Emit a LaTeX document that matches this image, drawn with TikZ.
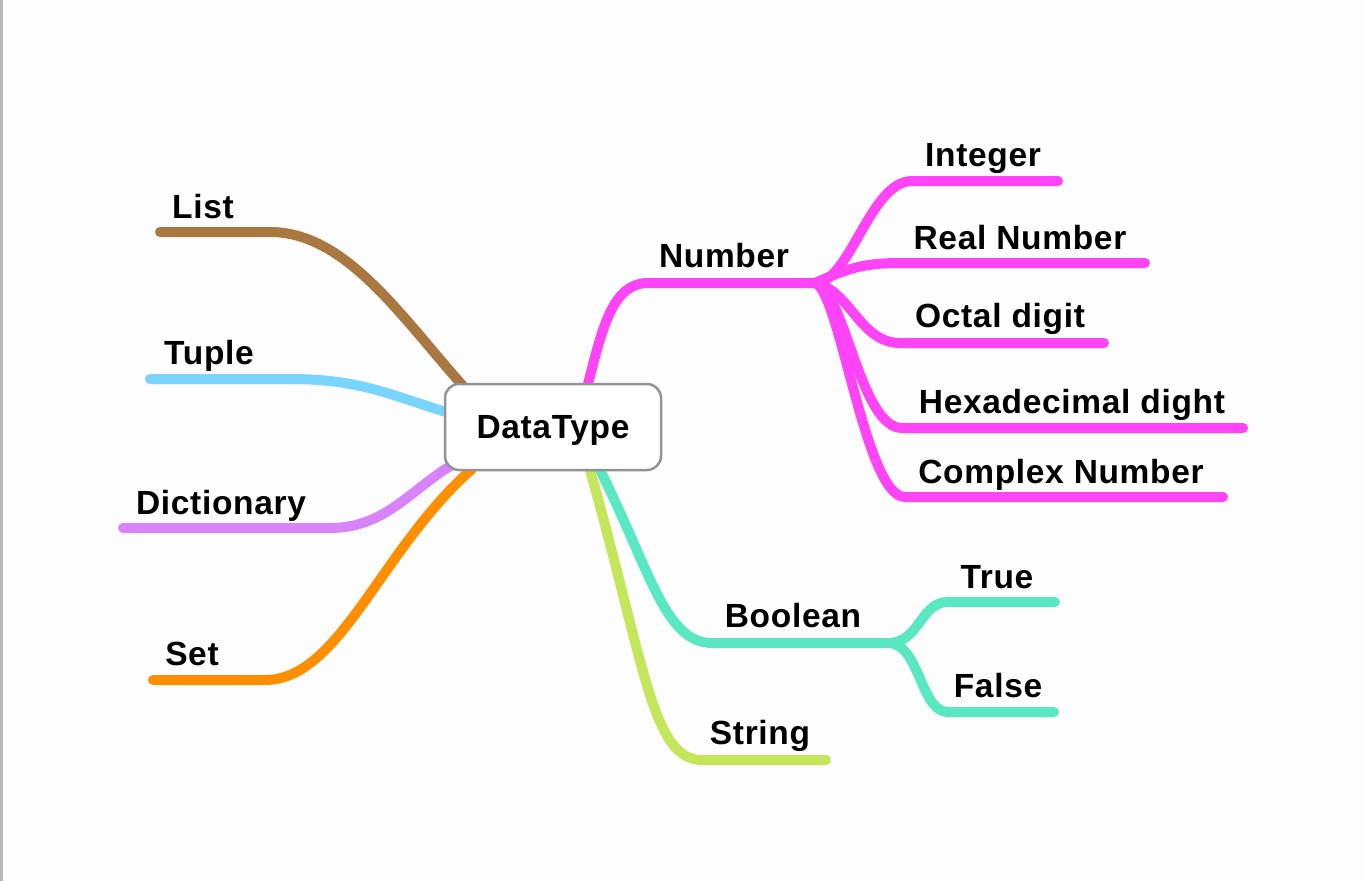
\documentclass[tikz,border=0pt]{standalone}
\usepackage{fontspec}
\setmainfont{Liberation Sans}[LetterSpace=2]
\definecolor{cList}{HTML}{A97840}
\definecolor{cTuple}{HTML}{78D5FF}
\definecolor{cDict}{HTML}{D883F9}
\definecolor{cSet}{HTML}{FF8F00}
\definecolor{cNum}{HTML}{FF44F8}
\definecolor{cBool}{HTML}{5AE8C3}
\definecolor{cStr}{HTML}{C3E65A}
\definecolor{cBg}{HTML}{FDFDFD}
\tikzset{
  branch/.style={line width=10pt, line cap=round},
  lbl/.style={font=\bfseries\fontsize{33.5}{38}\selectfont, inner sep=0pt, anchor=base},
  rootbox/.style={draw=gray!85, line width=2.5pt, fill=white, rounded corners=14pt,
     minimum width=216pt, minimum height=86pt, text depth=0pt,
     font=\bfseries\fontsize{33.5}{38}\selectfont}
}
\begin{document}
\begin{tikzpicture}[x=1pt,y=-1pt]
\useasboundingbox (0,0) rectangle (1366,881);
\fill[cBg] (0,0) rectangle (1366,881);
\draw[gray!55, line width=2.5pt] (1.5,0) -- (1.5,881);

% coordinates
\coordinate (listEnd) at (160,232);
\coordinate (listK) at (270,232);
\coordinate (listR) at (463,386);
\coordinate (tupEnd) at (150,379);
\coordinate (tupK) at (290,379);
\coordinate (tupR) at (446,412);
\coordinate (dicEnd) at (123,528);
\coordinate (dicK) at (330,528);
\coordinate (dicR) at (452,465);
\coordinate (setEnd) at (153,680);
\coordinate (setK) at (265,680);
\coordinate (setR) at (472,469);

\coordinate (numR) at (588,384);
\coordinate (numK) at (648,283);
\coordinate (numJ) at (815,283);
\coordinate (intK) at (912,181);  \coordinate (intE) at (1058,181);
\coordinate (realK) at (900,263); \coordinate (realE) at (1145,263);
\coordinate (octK) at (900,343);  \coordinate (octE) at (1104,343);
\coordinate (hexK) at (902,428);  \coordinate (hexE) at (1243,428);
\coordinate (cpxK) at (905,497);  \coordinate (cpxE) at (1223,497);

\coordinate (boolR) at (600,470);
\coordinate (boolK) at (712,643);
\coordinate (boolJ) at (888,643);
\coordinate (trueK) at (948,602); \coordinate (trueE) at (1055,602);
\coordinate (falseK) at (948,712); \coordinate (falseE) at (1054,712);

\coordinate (strR) at (590,470);
\coordinate (strK) at (702,760);
\coordinate (strE) at (826,760);

% left branches
\draw[branch, cList] (listEnd) -- (listK) .. controls (345,232) and (400,315) .. (listR);
\draw[branch, cTuple] (tupEnd) -- (tupK) .. controls (360,379) and (390,395) .. (tupR);
\draw[branch, cDict] (dicEnd) -- (dicK) .. controls (385,528) and (410,490) .. (dicR);
\draw[branch, cSet] (setEnd) -- (setK) .. controls (340,680) and (380,550) .. (setR);

% right branches
\draw[branch, cNum] (numR) .. controls (602,330) and (612,283) .. (numK) -- (numJ);
\draw[branch, cNum] (numJ) .. controls (850,283) and (870,181) .. (intK) -- (intE);
\draw[branch, cNum] (numJ) .. controls (845,270) and (860,263) .. (realK) -- (realE);
\draw[branch, cNum] (numJ) .. controls (850,290) and (860,343) .. (octK) -- (octE);
\draw[branch, cNum] (numJ) .. controls (845,290) and (860,428) .. (hexK) -- (hexE);
\draw[branch, cNum] (numJ) .. controls (840,290) and (865,497) .. (cpxK) -- (cpxE);

\draw[branch, cBool] (boolR) .. controls (650,570) and (665,643) .. (boolK) -- (boolJ);
\draw[branch, cBool] (boolJ) .. controls (920,643) and (920,602) .. (trueK) -- (trueE);
\draw[branch, cBool] (boolJ) .. controls (920,643) and (920,712) .. (falseK) -- (falseE);

\draw[branch, cStr] (strR) .. controls (645,665) and (652,760) .. (strK) -- (strE);

% root
\node[rootbox] (root) at (553,427) {DataType};

% labels
\node[lbl] (lList) at (203,218) {List};
\node[lbl] (lTuple) at (209,364) {Tuple};
\node[lbl] (lDict) at (221,514) {Dictionary};
\node[lbl] (lSet) at (192,665) {Set};
\node[lbl] (lNum) at (724,267) {Number};
\node[lbl] (lInt) at (983,166) {Integer};
\node[lbl] (lReal) at (1020,249) {Real Number};
\node[lbl] (lOct) at (1000,327) {Octal digit};
\node[lbl] (lHex) at (1072,413) {Hexadecimal dight};
\node[lbl] (lCpx) at (1061,483) {Complex Number};
\node[lbl] (lBool) at (793,627) {Boolean};
\node[lbl] (lTrue) at (997,588) {True};
\node[lbl] (lFalse) at (998,697) {False};
\node[lbl] (lStr) at (760,744) {String};
\end{tikzpicture}
\end{document}
